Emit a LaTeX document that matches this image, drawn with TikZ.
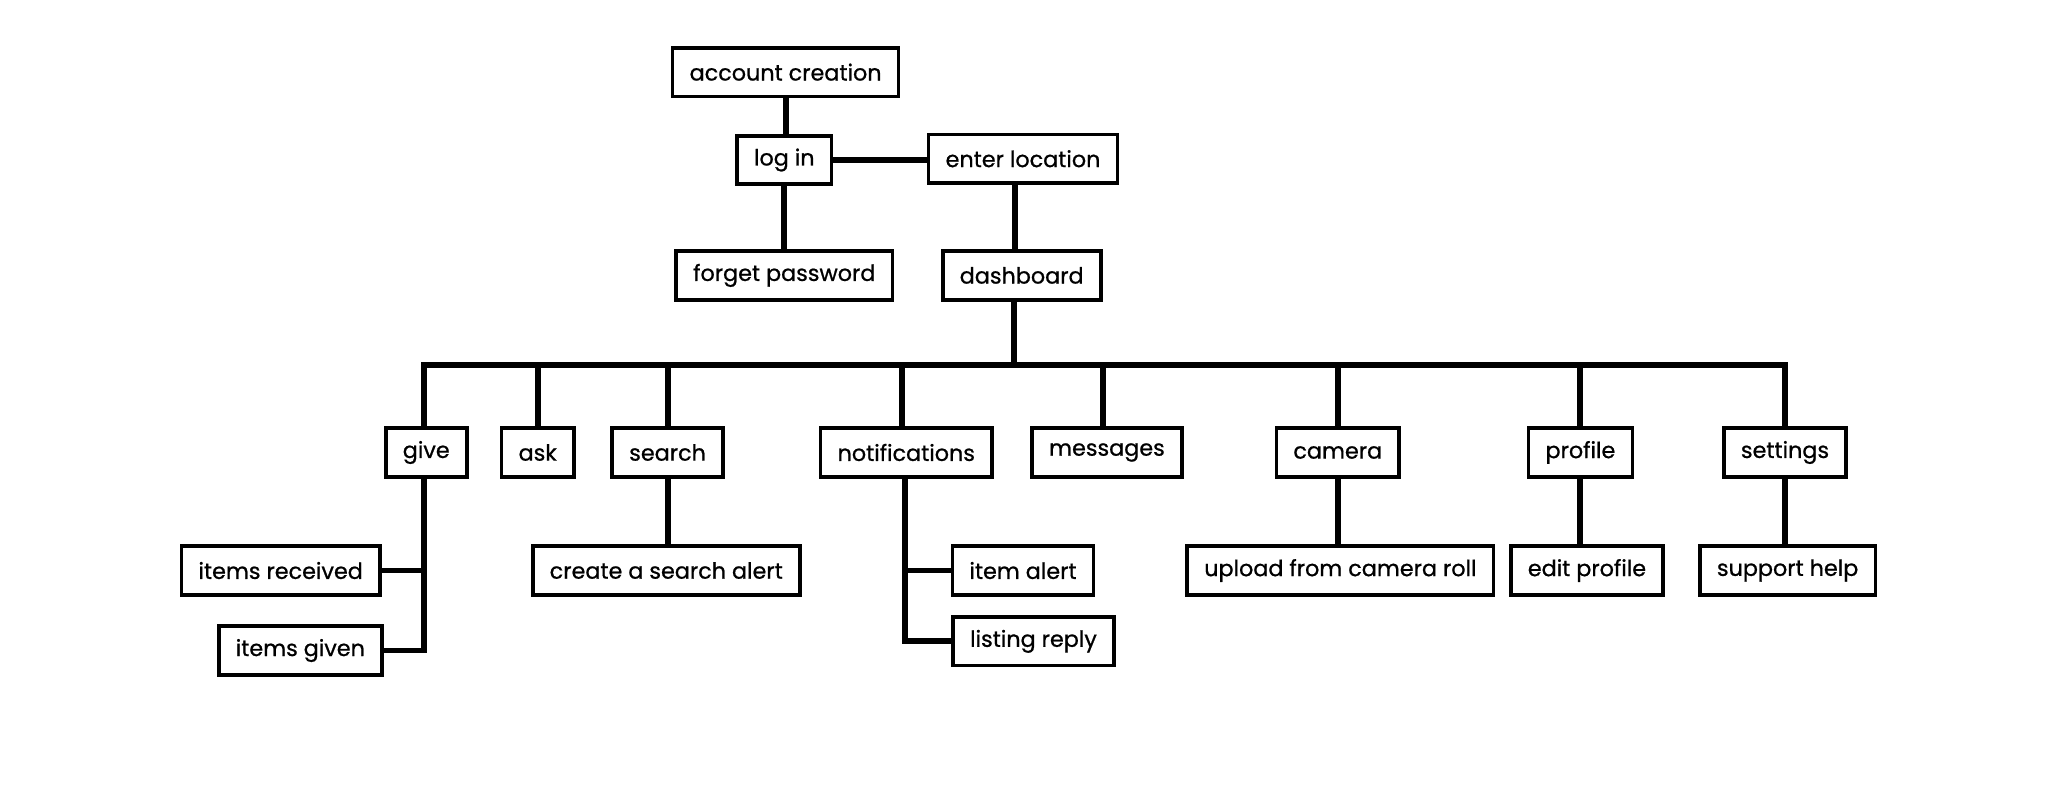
\documentclass[tikz,border=0pt]{standalone}
\usepackage{fontspec}
\setmainfont{Poppins}[FakeBold=0.8]
\begin{document}
\begin{tikzpicture}[x=1pt,y=-1pt,
  box/.style={draw=black,line width=2.8pt,fill=white,minimum height=37pt,inner xsep=13pt,inner ysep=2pt,font=\fontsize{17}{19}\selectfont},
  link/.style={line width=4.5pt,line cap=rect}]
\useasboundingbox[fill=white] (0,0) rectangle (1560,611.5);
\coordinate (busL) at (323,278);
\node[box] (acc) at (599,55) {account creation};
\node[box] (login) at (598,122) {log in};
\node[box] (enter) at (780,121) {enter location};
\node[box] (forget) at (598,210) {forget password};
\node[box] (dash) at (779,210) {dashboard};
\node[box] (give) at (325,345) {give};
\node[box] (ask) at (410,345) {ask};
\node[box] (search) at (509,345) {search};
\node[box] (notif) at (691,345) {notifications};
\node[box] (msg) at (844,345) {messages};
\node[box] (camera) at (1020,345) {camera};
\node[box] (profile) at (1205,345) {profile};
\node[box] (settings) at (1361,345) {settings};
\node[box] (received) at (214,435) {items received};
\node[box] (given) at (229,496) {items given};
\node[box] (csa) at (508,435) {create a search alert};
\node[box] (alert) at (780,435) {item alert};
\node[box] (reply) at (788,489) {listing reply};
\node[box] (upload) at (1022,435) {upload from camera roll};
\node[box] (edit) at (1210,435) {edit profile};
\node[box] (support) at (1363,435) {support help};
\coordinate (busR) at (settings.north |- busL);
\draw[link] (acc.south) -- (acc.south |- login.north);
\draw[link] (login.east) -- (login.east -| enter.west);
\draw[link] (login.south) -- (login.south |- forget.north);
\draw[link] ([xshift=-6pt]enter.south) -- ([xshift=-6pt]enter.south |- dash.north);
\draw[link] ([xshift=-6pt]dash.south) -- ([xshift=-6pt]dash.south |- busL);
\draw[link] (busL) -- (busR);
\draw[link] ([xshift=-2pt]give.north) -- ([xshift=-2pt]give.north |- busL);
\draw[link] (ask.north) -- (ask.north |- busL);
\draw[link] (search.north) -- (search.north |- busL);
\draw[link] ([xshift=-3pt]notif.north) -- ([xshift=-3pt]notif.north |- busL);
\draw[link] ([xshift=-3pt]msg.north) -- ([xshift=-3pt]msg.north |- busL);
\draw[link] (camera.north) -- (camera.north |- busL);
\draw[link] (profile.north) -- (profile.north |- busL);
\draw[link] (settings.north) -- (busR);
\draw[link] ([xshift=-2pt]give.south) -- ([xshift=-2pt]give.south |- given.east) -- (given.east);
\draw[link] (received.east) -- ([xshift=-2pt]give.south |- received.east);
\draw[link] (search.south) -- (search.south |- csa.north);
\draw[link] ([xshift=-1pt]notif.south) -- ([xshift=-1pt]notif.south |- reply.west) -- (reply.west);
\draw[link] ([xshift=-1pt]notif.south |- alert.west) -- (alert.west);
\draw[link] (camera.south) -- (camera.south |- upload.north);
\draw[link] (profile.south) -- (profile.south |- edit.north);
\draw[link] (settings.south) -- (settings.south |- support.north);
\end{tikzpicture}
\end{document}
